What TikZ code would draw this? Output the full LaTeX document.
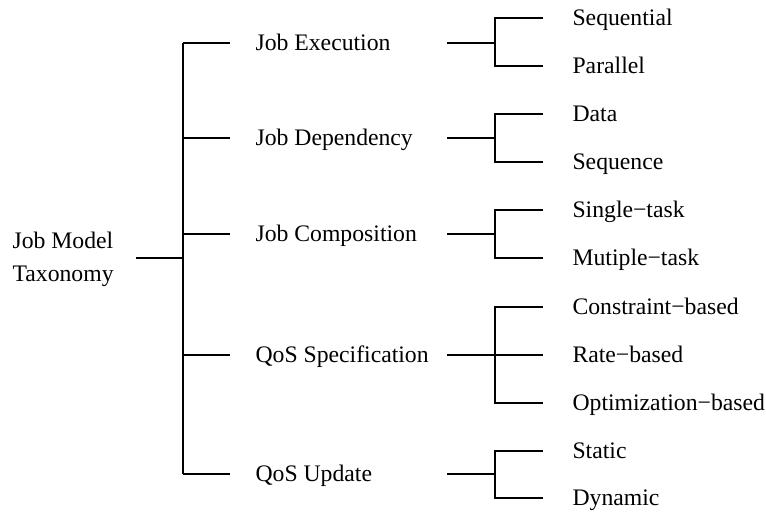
\documentclass[tikz,border=0pt]{standalone}
\usepackage{fontspec}
\setmainfont{Liberation Serif}
\begin{document}
\begin{tikzpicture}[x=1pt,y=-1pt,line width=1.1pt,
  lab/.style={anchor=west,inner sep=0pt,text height=15.7pt,text depth=0pt,
    font=\fontsize{23.7}{33}\selectfont}]
\useasboundingbox (0,0) rectangle (766,512);
% root
\node[anchor=west,inner sep=0pt,align=left,font=\fontsize{23.7}{33}\selectfont] (root) at (12,259) {Job Model\\Taxonomy};
\coordinate (rj) at (183,258);
\coordinate (rs) at (136,258);
% level 1
\node[lab] (je) at (255,43) {Job Execution};
\node[lab] (jd) at (255,138) {Job Dependency};
\node[lab] (jc) at (255,234) {Job Composition};
\node[lab] (qs) at (255,355) {QoS Specification};
\node[lab] (qu) at (255,474) {QoS Update};
% level 2
\node[lab] (seq) at (572,18) {Sequential};
\node[lab] (par) at (572,66) {Parallel};
\node[lab] (dat) at (572,114) {Data};
\node[lab] (sqc) at (572,162) {Sequence};
\node[lab] (sgl) at (572,210) {Single−task};
\node[lab] (mul) at (572,258) {Mutiple−task};
\node[lab] (con) at (572,307) {Constraint−based};
\node[lab] (rat) at (572,355) {Rate−based};
\node[lab] (opt) at (572,403) {Optimization−based};
\node[lab] (sta) at (572,451) {Static};
\node[lab] (dyn) at (572,498) {Dynamic};
% root stem and spine
\draw (rs) -- (rj);
\draw (183,43) -- (183,474);
\foreach \n in {je,jd,jc,qs,qu}{
  \draw (183,0 |- \n.west) -- ([xshift=-25pt]\n.west);
}
% level 2 brackets
\foreach \p/\a/\b in {je/seq/par, jd/dat/sqc, jc/sgl/mul, qs/con/opt, qu/sta/dyn}{
  \draw (447,0 |- \p.west) -- (495,0 |- \p.west);
  \draw ([xshift=-29pt]\a.west) -- (495,0 |- \a.west) -- (495,0 |- \b.west) -- ([xshift=-29pt]\b.west);
}
\draw (495,0 |- rat.west) -- ([xshift=-29pt]rat.west);
\end{tikzpicture}
\end{document}
